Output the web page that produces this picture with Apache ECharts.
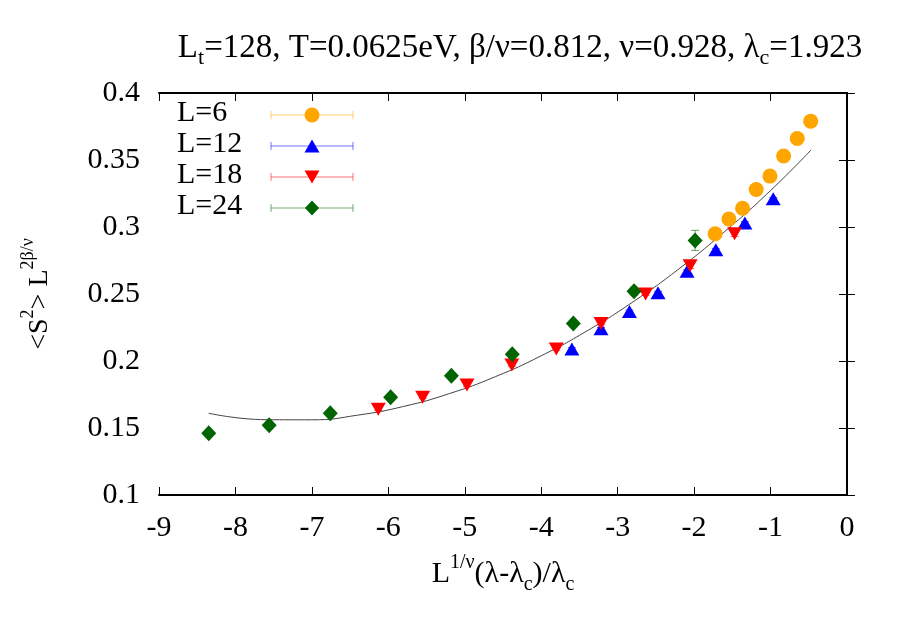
<!DOCTYPE html>
<html lang="en">
  <head>
    <meta charset="UTF-8" />
    <title>Scaling collapse</title>
    <script src="https://cdn.jsdelivr.net/npm/echarts@6/dist/echarts.min.js"></script>
  </head>
  <body style="margin: 0">
    <div id="main" style="width: 900px; height: 630px"></div>

    <script>
      // data: [x, y]
      var names = ["L=6", "L=12", "L=18", "L=24"]
      var colors = ["#ffa500", "#0000ff", "#ff0000", "#006400"]

      var l6 = [
        [-1.725, 0.295], [-1.545, 0.306], [-1.366, 0.314], [-1.188, 0.328],
        [-1.008, 0.338], [-0.829, 0.353], [-0.651, 0.366], [-0.475, 0.379],
      ]
      var l12 = [
        [-3.599, 0.209], [-3.218, 0.224], [-2.846, 0.237], [-2.472, 0.251],
        [-2.092, 0.267], [-1.716, 0.283], [-1.336, 0.303], [-0.965, 0.321],
      ]
      var l18 = [
        [-6.131, 0.164], [-5.551, 0.173], [-4.971, 0.182], [-4.384, 0.197],
        [-3.803, 0.209], [-3.218, 0.228], [-2.635, 0.25], [-2.052, 0.271],
        [-1.471, 0.295],
      ]
      var l24 = [
        [-8.349, 0.146], [-7.559, 0.152], [-6.76, 0.161], [-5.97, 0.173],
        [-5.175, 0.189], [-4.379, 0.205], [-3.58, 0.228], [-2.786, 0.252],
        [-1.987, 0.29],
      ]
      // error bars (half widths), most are hidden by the markers
      var err6 = [0.001, 0.001, 0.001, 0.001, 0.001, 0.001, 0.001, 0.001]
      var err12 = [0.001, 0.001, 0.001, 0.001, 0.001, 0.001, 0.001, 0.001]
      var err18 = [0.001, 0.001, 0.001, 0.001, 0.001, 0.001, 0.001, 0.002, 0.002]
      var err24 = [0.001, 0.001, 0.001, 0.001, 0.001, 0.002, 0.002, 0.003, 0.0075]

      // fitted curve, read at regular steps
      var fitX = [-8.35, -7.6, -7.0, -6.4, -5.8, -5.2, -4.6, -4.0, -3.4, -2.8, -2.2, -1.6, -1.0, -0.47]
      var fitY = [0.161, 0.1562, 0.1561, 0.1596, 0.1661, 0.1757, 0.1883, 0.2039, 0.2225, 0.2441, 0.2687, 0.2966, 0.3272, 0.3575]

      var xTicks = [-9, -8, -7, -6, -5, -4, -3, -2, -1, 0]
      var yTicks = [0.1, 0.15, 0.2, 0.25, 0.3, 0.35, 0.4]

      var sets = [l6, l12, l18, l24]
      var errs = [err6, err12, err18, err24]
      var symbols = ["circle", "triangle", "path://M0,0 L10,0 L5,9 Z", "diamond"]
      var sizes = [[15, 15], [15, 13], [15, 13], [15, 16]]

      var font = "Liberation Serif"
      var big = 30
      function richSet(size, small) {
        return {
          n: { fontFamily: font, fontWeight: "normal", fontSize: size, color: "#000", lineHeight: 42 },
          sup: { fontFamily: font, fontWeight: "normal", fontSize: small, color: "#000", lineHeight: 42, verticalAlign: "top" },
          sub: { fontFamily: font, fontWeight: "normal", fontSize: small, color: "#000", lineHeight: 42, verticalAlign: "bottom" },
        }
      }

      var mCharts = echarts.init(document.getElementById("main"))

      var series = []
      for (let i = 0; i < sets.length; i++) {
        let pts = []
        for (let j = 0; j < sets[i].length; j++) {
          pts.push([sets[i][j][0], sets[i][j][1], errs[i][j]])
        }
        // error bars
        series.push({
          type: "custom",
          data: pts,
          z: 2,
          silent: true,
          renderItem: function (params, api) {
            let x = api.value(0)
            let y = api.value(1)
            let e = api.value(2)
            let top = api.coord([x, y + e])
            let bot = api.coord([x, y - e])
            let st = { stroke: colors[i], lineWidth: 1, opacity: 0.6 }
            return {
              type: "group",
              children: [
                { type: "line", shape: { x1: top[0], y1: top[1], x2: bot[0], y2: bot[1] }, style: st },
                { type: "line", shape: { x1: top[0] - 4, y1: top[1], x2: top[0] + 4, y2: top[1] }, style: st },
                { type: "line", shape: { x1: bot[0] - 4, y1: bot[1], x2: bot[0] + 4, y2: bot[1] }, style: st },
              ],
            }
          },
        })
        series.push({
          name: names[i],
          type: "scatter",
          data: sets[i],
          symbol: symbols[i],
          symbolSize: sizes[i],
          itemStyle: { color: colors[i], opacity: 1 },
          z: 3,
        })
      }
      var fit = []
      for (let k = 0; k < fitX.length; k++) fit.push([fitX[k], fitY[k]])
      series.push({
        type: "line",
        data: fit,
        smooth: true,
        showSymbol: false,
        lineStyle: { color: "#444", width: 1 },
        z: 1,
      })

      // legend drawn by hand: label, error-bar line and marker
      var graphics = []
      for (let i = 0; i < names.length; i++) {
        let y = 115 + 31 * i
        let st = { stroke: colors[i], lineWidth: 1, opacity: 0.55 }
        graphics.push({
          type: "text",
          left: 177,
          top: y - 17,
          style: { text: names[i], fontFamily: font, fontSize: big, fill: "#000" },
        })
        graphics.push({ type: "line", shape: { x1: 271, y1: y, x2: 353, y2: y }, style: st })
        graphics.push({ type: "line", shape: { x1: 271, y1: y - 4, x2: 271, y2: y + 4 }, style: st })
        graphics.push({ type: "line", shape: { x1: 353, y1: y - 4, x2: 353, y2: y + 4 }, style: st })
      }
      graphics.push({ type: "circle", shape: { cx: 312, cy: 115, r: 7.5 }, style: { fill: colors[0] } })
      graphics.push({ type: "polygon", shape: { points: [[312, 139.5], [319.5, 152.5], [304.5, 152.5]] }, style: { fill: colors[1] } })
      graphics.push({ type: "polygon", shape: { points: [[304.5, 170.5], [319.5, 170.5], [312, 183.5]] }, style: { fill: colors[2] } })
      graphics.push({ type: "polygon", shape: { points: [[312, 200.5], [319, 208], [312, 215.5], [305, 208]] }, style: { fill: colors[3] } })

      var tickStyle = { show: true, inside: true, length: 8, lineStyle: { color: "#000", width: 1 } }
      var lineStyle = { show: true, lineStyle: { color: "#000", width: 2 } }

      var option = {
        animation: false,
        backgroundColor: "#fff",
        title: {
          text: "{n|L}{sub|t}{n|=128, T=0.0625eV, β/ν=0.812, ν=0.928, λ}{sub|c}{n|=1.923}",
          left: 515,
          top: 22,
          textAlign: "center",
          textStyle: { rich: richSet(33, 22) },
        },
        grid: { left: 159, right: 53, top: 93, bottom: 135 },
        graphic: graphics,
        xAxis: [
          {
            type: "value",
            min: xTicks[0],
            max: xTicks[xTicks.length - 1],
            interval: 1,
            position: "bottom",
            axisLine: lineStyle,
            axisTick: tickStyle,
            splitLine: { show: false },
            axisLabel: { fontFamily: font, fontSize: big, color: "#000", margin: 18 },
            name: "{n|L}{sup|1/ν}{n|(λ-λ}{sub|c}{n|)/λ}{sub|c}",
            nameLocation: "middle",
            nameGap: 58,
            nameTextStyle: { rich: richSet(big, 20) },
          },
          {
            type: "value",
            min: xTicks[0],
            max: xTicks[xTicks.length - 1],
            interval: 1,
            position: "top",
            axisLine: lineStyle,
            axisTick: tickStyle,
            axisLabel: { show: false },
            splitLine: { show: false },
          },
        ],
        yAxis: [
          {
            type: "value",
            min: yTicks[0],
            max: yTicks[yTicks.length - 1],
            interval: 0.05,
            position: "left",
            axisLine: lineStyle,
            axisTick: tickStyle,
            splitLine: { show: false },
            axisLabel: { fontFamily: font, fontSize: big, color: "#000", margin: 19 },
            name: "{n|<S}{sup|2}{n|> L}{sup|2β/ν}",
            nameLocation: "middle",
            nameGap: 98,
            nameRotate: 90,
            nameTextStyle: { rich: richSet(28, 18) },
          },
          {
            type: "value",
            min: yTicks[0],
            max: yTicks[yTicks.length - 1],
            interval: 0.05,
            position: "right",
            axisLine: lineStyle,
            axisTick: tickStyle,
            axisLabel: { show: false },
            splitLine: { show: false },
          },
        ],
        series: series,
      }

      mCharts.setOption(option)
    </script>
  </body>
</html>
